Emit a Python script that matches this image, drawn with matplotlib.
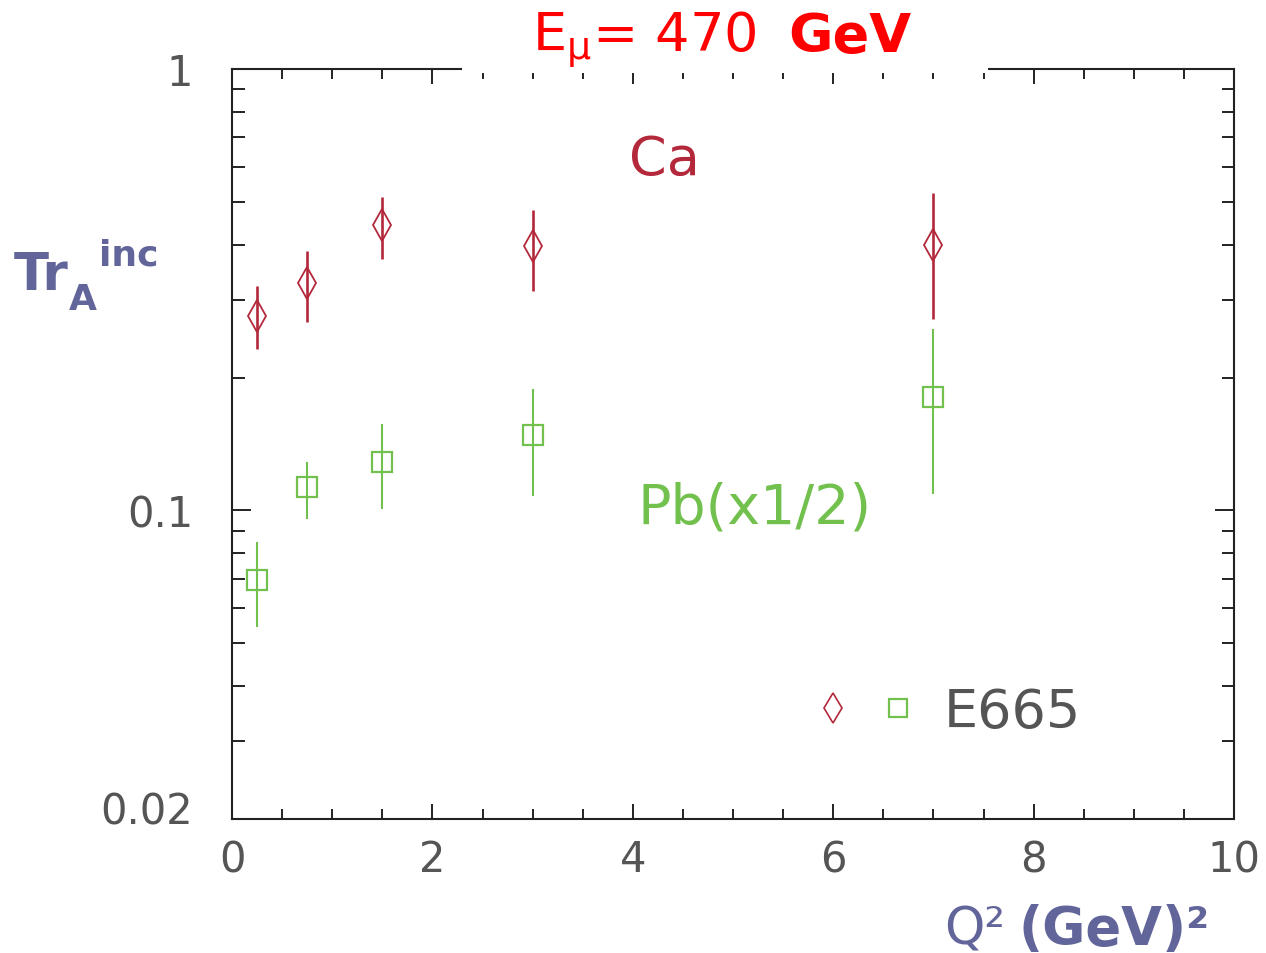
import matplotlib
matplotlib.use("Agg")
import matplotlib.pyplot as plt
from matplotlib.lines import Line2D
from matplotlib.legend_handler import HandlerTuple
from matplotlib.patches import Rectangle
import matplotlib.transforms as mtransforms

# ---- DATA ----
q2 = [0.25, 0.75, 1.5, 3.0, 7.0]

ca_val = [0.276, 0.328, 0.443, 0.397, 0.399]
ca_hi = [0.322, 0.387, 0.513, 0.479, 0.524]
ca_lo = [0.232, 0.267, 0.371, 0.314, 0.271]

pb_val = [0.0696, 0.113, 0.129, 0.148, 0.181]
pb_hi = [0.0848, 0.129, 0.157, 0.188, 0.258]
pb_lo = [0.0544, 0.0956, 0.101, 0.108, 0.109]

x_ticks = [0, 2, 4, 6, 8, 10]
y_ticks = [0.02, 0.1, 1]
y_ticklabels = ["0.02", "0.1", "1"]

# ---- STYLE ----
CA_COL = "#b3283a"
PB_COL = "#72c04e"
LBL_COL = "#62659a"
TICK_COL = "#555555"

W, H = 1266, 954


def px(x, y):
    return x / W, 1 - y / H


fig = plt.figure(figsize=(12.66, 9.54), dpi=100)
ax = fig.add_axes([232 / W, 1 - 820 / H, (1234 - 232) / W, (820 - 70) / H])

ax.set_yscale("log")
ax.set_xlim(0, 10)
ax.set_ylim(0.02, 1)

ca_err = [[v - l for v, l in zip(ca_val, ca_lo)], [h - v for v, h in zip(ca_val, ca_hi)]]
pb_err = [[v - l for v, l in zip(pb_val, pb_lo)], [h - v for v, h in zip(pb_val, pb_hi)]]

ax.errorbar(q2, ca_val, yerr=ca_err, fmt="d", ms=16, mfc="none", mec=CA_COL,
            mew=1.3, ecolor=CA_COL, elinewidth=1.9, capsize=0)
ax.errorbar(q2, pb_val, yerr=pb_err, fmt="s", ms=14, mfc="none", mec=PB_COL,
            mew=1.6, ecolor=PB_COL, elinewidth=1.5, capsize=0)

# ticks
ax.set_xticks(x_ticks)
ax.set_xticks([v * 0.5 for v in range(21)], minor=True)
ax.set_yticks(y_ticks, y_ticklabels)
ax.set_yticks([0.03, 0.04, 0.05, 0.06, 0.07, 0.08, 0.09,
               0.2, 0.3, 0.4, 0.5, 0.6, 0.7, 0.8, 0.9], minor=True)
ax.yaxis.set_minor_formatter(matplotlib.ticker.NullFormatter())
ax.tick_params(which="both", direction="in", top=True, right=True,
               color="#222222", width=1.4, labelcolor=TICK_COL, labelsize=30)
ax.tick_params(axis="x", which="major", length=11, pad=14)
ax.tick_params(axis="x", which="minor", length=7)
ax.tick_params(axis="y", which="major", length=14, pad=28)
ax.tick_params(axis="y", which="minor", length=9)
for s in ax.spines.values():
    s.set_linewidth(1.5)
    s.set_color("#222222")
# nudge the bottom y label up a little, like the original
lbl = ax.get_yticklabels()[0]
lbl.set_transform(lbl.get_transform() + mtransforms.ScaledTranslation(0, 12 / 100, fig.dpi_scale_trans))

# gap in the top frame behind the title
ax.add_patch(Rectangle(((462 - 232) / 1002, 0.995), (988 - 462) / 1002, 0.012,
                       transform=ax.transAxes, facecolor="white", edgecolor="none",
                       clip_on=False, zorder=10))

# labels inside the plot
ax.text(4.32, 0.625, "Ca", color=CA_COL, fontsize=39, ha="center", va="center")
ax.text(5.22, 0.1018, "Pb(x1/2)", color=PB_COL, fontsize=40, ha="center", va="center")

h_ca = Line2D([], [], ls="none", marker="d", ms=15, mfc="none", mec=CA_COL, mew=1.2)
h_pb = Line2D([], [], ls="none", marker="s", ms=13, mfc="none", mec=PB_COL, mew=1.6)
leg = ax.legend(handles=[(h_ca, h_pb)], labels=["E665"],
                handler_map={tuple: HandlerTuple(ndivide=None, pad=0.7)},
                loc="center", bbox_to_anchor=(0.717, 0.143), frameon=False,
                fontsize=39, handlelength=1.7, handletextpad=0.6, labelcolor="#555555")

# title
fig.text(*px(757, 52), r"E$_\mathregular{μ}$= 470", color="red", fontsize=39, ha="right", va="baseline")
fig.text(*px(788, 52), "GeV", color="red", fontsize=39, fontweight="bold", ha="left", va="baseline")

# y label
fig.text(*px(14, 290), "Tr", color=LBL_COL, fontsize=37, fontweight="bold", ha="left", va="baseline")
fig.text(*px(69, 310), "A", color=LBL_COL, fontsize=26, fontweight="bold", ha="left", va="baseline")
fig.text(*px(99, 265), "inc", color=LBL_COL, fontsize=26, fontweight="bold", ha="left", va="baseline")

# x label
fig.text(*px(944, 945), "Q²", color=LBL_COL, fontsize=37, ha="left", va="baseline")
fig.text(*px(1018, 945), "(GeV)²", color=LBL_COL, fontsize=38, fontweight="bold", ha="left", va="baseline")

fig.savefig("out.png", dpi=100, facecolor="white")
